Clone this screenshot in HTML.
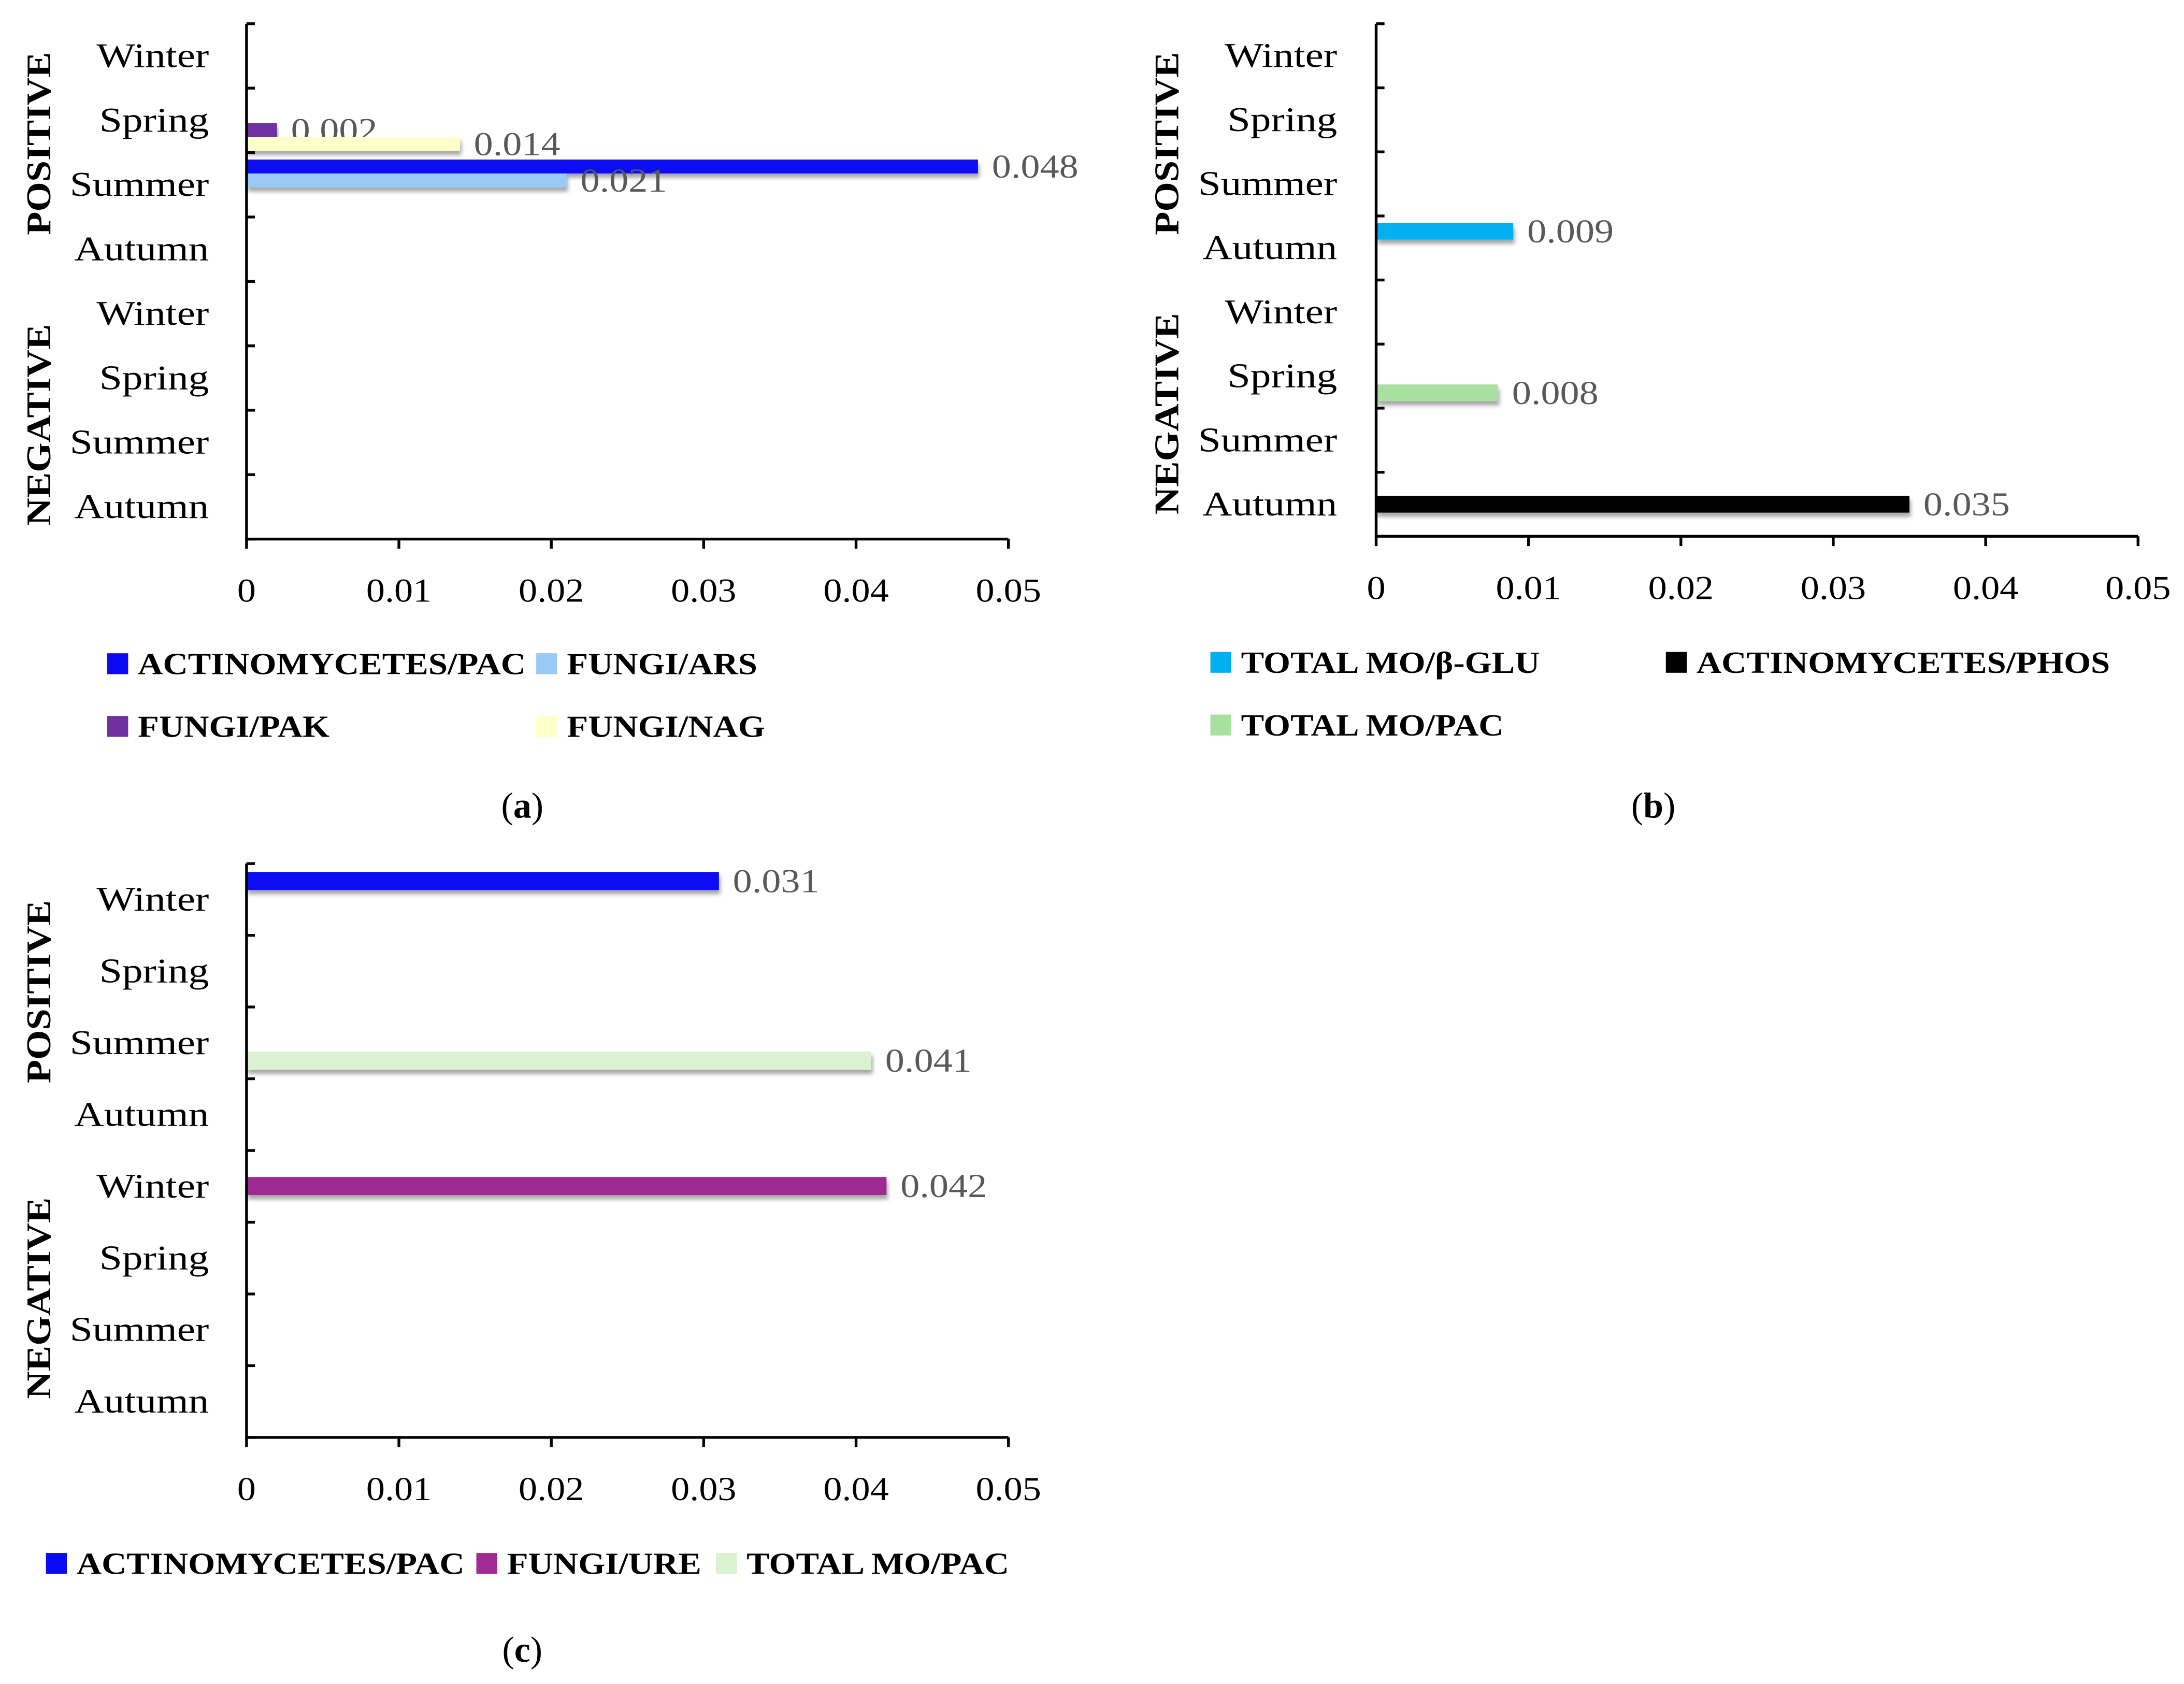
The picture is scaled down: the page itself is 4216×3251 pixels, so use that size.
<!DOCTYPE html>
<html><head><meta charset="utf-8">
<style>
html,body{margin:0;padding:0;background:#fff;}
svg{display:block;}
text{font-family:"Liberation Serif",serif;}
</style></head>
<body>
<svg id="fig" xmlns="http://www.w3.org/2000/svg" width="4216" height="3251" viewBox="0 0 1568 1209">
<defs>
<filter id="sh" x="-5%" y="-50%" width="110%" height="250%">
<feDropShadow dx="1" dy="3" stdDeviation="1.5" flood-color="#000" flood-opacity="0.35"/>
</filter>
</defs>
<rect width="1568" height="1209" fill="#fff"/>
</svg>
<script>
var seasons = ["Winter","Spring","Summer","Autumn","Winter","Spring","Summer","Autumn"];
var xTicks = [0,0.01,0.02,0.03,0.04,0.05];
var xTickLabels = ["0","0.01","0.02","0.03","0.04","0.05"];

// Panel a
var aSeries = ["ACTINOMYCETES/PAC","FUNGI/ARS","FUNGI/PAK","FUNGI/NAG"];
var aCategory = [2,2,1,1];
var aValues = [0.048,0.021,0.002,0.014];
var aLabels = ["0.048","0.021","0.002","0.014"];
// Panel b
var bSeries = ["TOTAL MO/β-GLU","ACTINOMYCETES/PHOS","TOTAL MO/PAC"];
var bCategory = [3,7,5];
var bValues = [0.009,0.035,0.008];
var bLabels = ["0.009","0.035","0.008"];
// Panel c
var cSeries = ["ACTINOMYCETES/PAC","FUNGI/URE","TOTAL MO/PAC"];
var cCategory = [0,4,2];
var cValues = [0.031,0.042,0.041];
var cLabels = ["0.031","0.042","0.041"];

var NS="http://www.w3.org/2000/svg";
var svg=document.getElementById('fig');
function el(tag,attrs,parent){var e=document.createElementNS(NS,tag);for(var k in attrs)e.setAttribute(k,attrs[k]);(parent||svg).appendChild(e);return e;}
function txt(s,attrs,parent){var t=el('text',attrs,parent);t.textContent=s;return t;}
function widen(t,f){var w=t.getComputedTextLength();t.setAttribute('textLength',(w*f).toFixed(1));t.setAttribute('lengthAdjust','spacingAndGlyphs');}

function panel(cfg){
  var g=el('g',{});
  
  
  var x0=cfg.x0,x1=cfg.x1,yt=cfg.yt,yb=cfg.yb;
  var band=(yb-yt)/seasons.length;
  function xs(v){return x0+(v-0)/(0.05-0)*(x1-x0);}
  for(var i=0;i<cfg.values.length;i++){
    var y=yt+cfg.category[i]*band+cfg.slot0+i*cfg.slotH;
    var r=el('rect',{x:x0,y:y,width:xs(cfg.values[i])-x0,height:cfg.barH,fill:cfg.colors[i],filter:'url(#sh)'},g);
    
    
    var l=txt(cfg.labels[i],{x:xs(cfg.values[i])+cfg.lblDx,y:y+cfg.barH/2+8,'font-size':24,fill:'#595959'},g);
    
    
    widen(l,1.15);
  }
  var ax=el('path',{d:'M'+x0+' '+yt+' V'+yb+' H'+x1,stroke:'#000','stroke-width':2,fill:'none'},g);
  
  
  for(var k=0;k<=seasons.length;k++){
    el('line',{x1:x0,x2:x0+6,y1:yt+k*band,y2:yt+k*band,stroke:'#000','stroke-width':2},g);
  }
  for(var j=0;j<xTicks.length;j++){
    var tx=xs(xTicks[j]);
    el('line',{x1:tx,x2:tx,y1:yb,y2:yb+7,stroke:'#000','stroke-width':2},g);
    var t=txt(xTickLabels[j],{x:tx,y:yb+45,'font-size':24,'text-anchor':'middle',fill:'#000'},g);
    
    
    widen(t,1.12);
  }
  for(var s=0;s<seasons.length;s++){
    var c=txt(seasons[s],{x:cfg.catX,y:yt+s*band+band/2+cfg.catDy,'font-size':25,'text-anchor':'end',fill:'#000'},g);
    
    
    widen(c,1.18);
  }
  var gp=txt('POSITIVE',{x:0,y:0,'font-size':25,'font-weight':'bold','text-anchor':'middle',transform:'translate('+cfg.grpX+','+cfg.posY+') rotate(-90)'},g);
  
  
  widen(gp,1.1);
  var gn=txt('NEGATIVE',{x:0,y:0,'font-size':25,'font-weight':'bold','text-anchor':'middle',transform:'translate('+cfg.grpX+','+cfg.negY+') rotate(-90)'},g);
  
  
  widen(gn,1.1);
  for(var m=0;m<cfg.series.length;m++){
    var p=cfg.legPos[m];
    var lg=el('g',{},g);
    
    
    el('rect',{x:p[0],y:p[1]-15,width:15,height:15,fill:cfg.colors[m]},lg);
    var lt=txt(cfg.series[m],{x:p[0]+22,y:p[1],'font-size':22,'font-weight':'bold',fill:'#000'},lg);
    widen(lt,1.13);
  }
  var cap=el('text',{x:cfg.capX,y:cfg.capY,'font-size':26,'text-anchor':'middle'},g);
  cap.innerHTML='(<tspan font-weight="bold">'+cfg.cap+'</tspan>)';
  
  
}

panel({name:'panel-a',x0:177,x1:724,yt:17,yb:387,series:aSeries,category:aCategory,values:aValues,labels:aLabels,
  colors:['#0a0af5','#99c9f7','#7030a0','#ffffcc'],slot0:5,slotH:10,barH:10,lblDx:10,
  catX:150,catDy:8,grpX:36,posY:103,negY:305,
  legPos:[[77,484],[385,484],[77,529],[385,529]],capX:375,capY:587,cap:'a'});
panel({name:'panel-b',x0:988,x1:1535,yt:17,yb:385,series:bSeries,category:bCategory,values:bValues,labels:bLabels,
  colors:['#00b0f0','#000000','#a9dfa0'],slot0:5,slotH:12,barH:12,lblDx:10,
  catX:960,catDy:8,grpX:846,posY:103,negY:297,
  legPos:[[869,483],[1196,483],[869,528]],capX:1187,capY:587,cap:'b'});
panel({name:'panel-c',x0:177,x1:724,yt:620,yb:1032,series:cSeries,category:cCategory,values:cValues,labels:cLabels,
  colors:['#0a0af5','#a02b93','#d9f2d0'],slot0:6,slotH:13,barH:13,lblDx:10,
  catX:150,catDy:8,grpX:36,posY:712,negY:932,
  legPos:[[33,1130],[342,1130],[514,1130]],capX:375,capY:1193,cap:'c'});
</script>
</body></html>
